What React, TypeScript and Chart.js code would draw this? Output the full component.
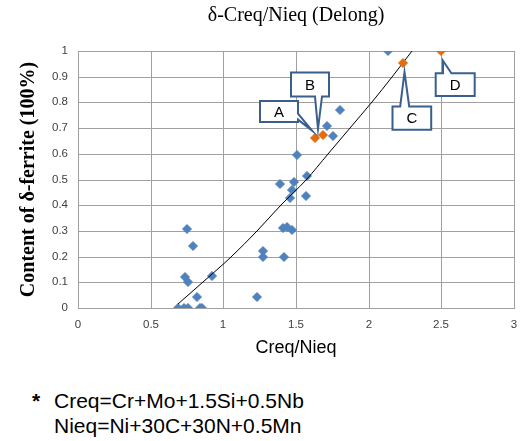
import React, { useEffect, useRef } from "react";
import { Chart, registerables } from "chart.js";

Chart.register(...registerables);

// ---- data ----
const blueX = [0.685, 0.73, 0.755, 0.84, 0.85, 0.82, 1.235, 0.735, 0.76, 0.925, 1.275, 1.275, 1.418, 0.748, 0.79, 1.413, 1.44, 1.47, 1.46, 1.47, 1.487, 1.39, 1.567, 1.574, 1.509, 1.71, 1.755, 1.8, 2.13];
const blueY = [0, 0, 0, 0, 0, 0.044, 0.044, 0.119, 0.102, 0.124, 0.223, 0.2, 0.2, 0.307, 0.243, 0.31, 0.314, 0.303, 0.427, 0.459, 0.491, 0.484, 0.436, 0.514, 0.595, 0.707, 0.668, 0.772, 1.0];

const markedLabels = ["A", "B", "C", "D"];
const markedX = [1.63, 1.686, 2.235, 2.5];
const markedY = [0.66, 0.675, 0.955, 1.0];

const trendX = [0.69, 0.86, 1.05, 1.23, 1.4, 1.566, 1.723, 1.874, 2.02, 2.159, 2.297];
const trendY = [0.016, 0.1, 0.2, 0.3, 0.4, 0.5, 0.6, 0.7, 0.8, 0.9, 1.0];

const xTickLabels = ["0", "0.5", "1", "1.5", "2", "2.5", "3"];
const yTickLabels = ["0", "0.1", "0.2", "0.3", "0.4", "0.5", "0.6", "0.7", "0.8", "0.9", "1"];

const titleText = "δ-Creq/Nieq (Delong)";
const xTitleText = "Creq/Nieq";
const yTitleText = "Content of δ-ferrite (100%)";
const noteMark = "*";
const noteLines = ["Creq=Cr+Mo+1.5Si+0.5Nb", "Nieq=Ni+30C+30N+0.5Mn"];

// ---- styles ----
const BLUE = "#4F81BD";
const ORANGE = "#E46C0A";
const GRID = "#A0A0A0";
const TICK = "#404040";
const CALLOUT = "#3A5F8F";

type Geom = { x: number; y: number; w: number; h: number; side: "top" | "right" | "bottom"; b0: number; b1: number; tx: number; ty: number };
// callout geometry relative to its marked point (pixels)
const calloutGeom: Geom[] = [
  { x: -55, y: -37, w: 38, h: 21, side: "right", b0: -24.4, b1: -18.4, tx: -3, ty: -7.4 },
  { x: -32, y: -62.5, w: 38, h: 24, side: "bottom", b0: -8, b1: -1, tx: -5, ty: -6 },
  { x: -10.5, y: 43.4, w: 38.7, h: 23.3, side: "top", b0: -2.8, b1: 6.2, tx: 1.5, ty: 9.1 },
  { x: -5.3, y: 22.3, w: 39, h: 22.7, side: "top", b0: 2, b1: 10.4, tx: 2, ty: 9.7 },
];

const calloutPlugin = {
  id: "callouts",
  afterDatasetsDraw(chart: any) {
    const ctx = chart.ctx as CanvasRenderingContext2D;
    const xs = chart.scales.x;
    const ys = chart.scales.y;
    ctx.save();
    markedLabels.forEach((lab, i) => {
      const g = calloutGeom[i];
      const px = xs.getPixelForValue(markedX[i]);
      const py = ys.getPixelForValue(markedY[i]);
      const L = px + g.x, T = py + g.y, R = L + g.w, B = T + g.h;
      const tip: [number, number] = [px + g.tx, py + g.ty];
      let pts: [number, number][] = [];
      if (g.side === "top") {
        pts = [[L, T], [px + g.b0, T], tip, [px + g.b1, T], [R, T], [R, B], [L, B]];
      } else if (g.side === "right") {
        pts = [[L, T], [R, T], [R, py + g.b0], tip, [R, py + g.b1], [R, B], [L, B]];
      } else {
        pts = [[L, T], [R, T], [R, B], [px + g.b1, B], tip, [px + g.b0, B], [L, B]];
      }
      ctx.beginPath();
      pts.forEach((p, k) => (k === 0 ? ctx.moveTo(p[0], p[1]) : ctx.lineTo(p[0], p[1])));
      ctx.closePath();
      ctx.fillStyle = "#ffffff";
      ctx.fill();
      ctx.lineWidth = 2;
      ctx.lineJoin = "miter";
      ctx.strokeStyle = CALLOUT;
      ctx.stroke();
      ctx.fillStyle = "#000000";
      ctx.font = "15px 'Liberation Sans'";
      ctx.textAlign = "center";
      ctx.textBaseline = "middle";
      ctx.fillText(lab, (L + R) / 2, (T + B) / 2 + 1);
    });
    ctx.restore();
  },
};

export default function App() {
  const ref = useRef<HTMLCanvasElement | null>(null);

  useEffect(() => {
    if (!ref.current) return;
    Chart.defaults.font.family = "'Liberation Sans', Arial, sans-serif";
    const chart = new Chart(ref.current, {
      type: "scatter",
      data: {
        datasets: [
          {
            label: "marked",
            data: markedX.map((x, i) => ({ x, y: markedY[i] })),
            backgroundColor: ORANGE,
            borderColor: ORANGE,
            borderWidth: 1,
            pointStyle: "rectRot",
            pointRadius: 4.5,
            order: 0,
          },
          {
            label: "trend",
            data: trendX.map((x, i) => ({ x, y: trendY[i] })),
            showLine: true,
            borderColor: "#000000",
            borderWidth: 1,
            pointRadius: 0,
            cubicInterpolationMode: "monotone",
            fill: false,
            order: 1,
          } as any,
          {
            label: "data",
            data: blueX.map((x, i) => ({ x, y: blueY[i] })),
            backgroundColor: BLUE,
            borderColor: BLUE,
            borderWidth: 1,
            pointStyle: "rectRot",
            pointRadius: 4.5,
            order: 2,
          },
        ],
      },
      options: {
        responsive: false,
        animation: false,
        devicePixelRatio: 1,
        layout: { padding: { left: 0, right: 7, top: 0, bottom: 3 } },
        plugins: {
          legend: { display: false },
          tooltip: { enabled: false },
          title: {
            display: true,
            text: titleText,
            fullSize: false,
            color: "#000000",
            font: { family: "'Liberation Serif', 'Times New Roman', serif", size: 20, weight: "normal" },
            padding: { top: 4, bottom: 23 },
          },
        },
        scales: {
          x: {
            type: "linear",
            min: 0,
            max: 3,
            alignToPixels: true,
            ticks: {
              stepSize: 0.5,
              padding: 10,
              color: TICK,
              font: { size: 11.5 },
              callback: (v: any, i: number) => xTickLabels[i] ?? String(v),
            },
            grid: { color: GRID, lineWidth: 1, drawTicks: false },
            border: { color: GRID, width: 1 },
            title: {
              display: true,
              text: xTitleText,
              color: "#000000",
              font: { size: 18 },
              padding: { top: 0, bottom: 0 },
            },
            afterFit: (s: any) => {
              s.height = 51;
              s.paddingRight = 4;
              s.paddingLeft = 4;
            },
          },
          y: {
            type: "linear",
            min: 0,
            max: 1,
            alignToPixels: true,
            ticks: {
              stepSize: 0.1,
              padding: 10,
              color: TICK,
              font: { size: 11.5 },
              callback: (v: any, i: number) => yTickLabels[i] ?? String(v),
            },
            grid: { color: GRID, lineWidth: 1, drawTicks: false },
            border: { color: GRID, width: 1 },
            title: {
              display: true,
              text: yTitleText,
              color: "#000000",
              font: { family: "'Liberation Serif', 'Times New Roman', serif", size: 20, weight: "bold" },
              padding: { top: 17, bottom: 0 },
            },
            afterFit: (s: any) => {
              s.width = 78;
            },
          },
        },
      } as any,
      plugins: [calloutPlugin],
    });
    return () => chart.destroy();
  }, []);

  const noteFont: React.CSSProperties = {
    position: "absolute",
    fontFamily: "'Liberation Sans', Arial, sans-serif",
    fontSize: 21,
    lineHeight: "25px",
    color: "#000000",
    whiteSpace: "nowrap",
  };

  return (
    <div style={{ position: "absolute", left: 0, top: 0, width: 521, height: 441, background: "#ffffff", overflow: "hidden" }}>
      <canvas ref={ref} width={521} height={362} style={{ display: "block", width: 521, height: 362 }} />
      <div style={{ ...noteFont, left: 32, top: 388, fontWeight: "bold" }}>{noteMark}</div>
      <div style={{ ...noteFont, left: 54, top: 388 }}>{noteLines[0]}</div>
      <div style={{ ...noteFont, left: 54, top: 413 }}>{noteLines[1]}</div>
    </div>
  );
}
